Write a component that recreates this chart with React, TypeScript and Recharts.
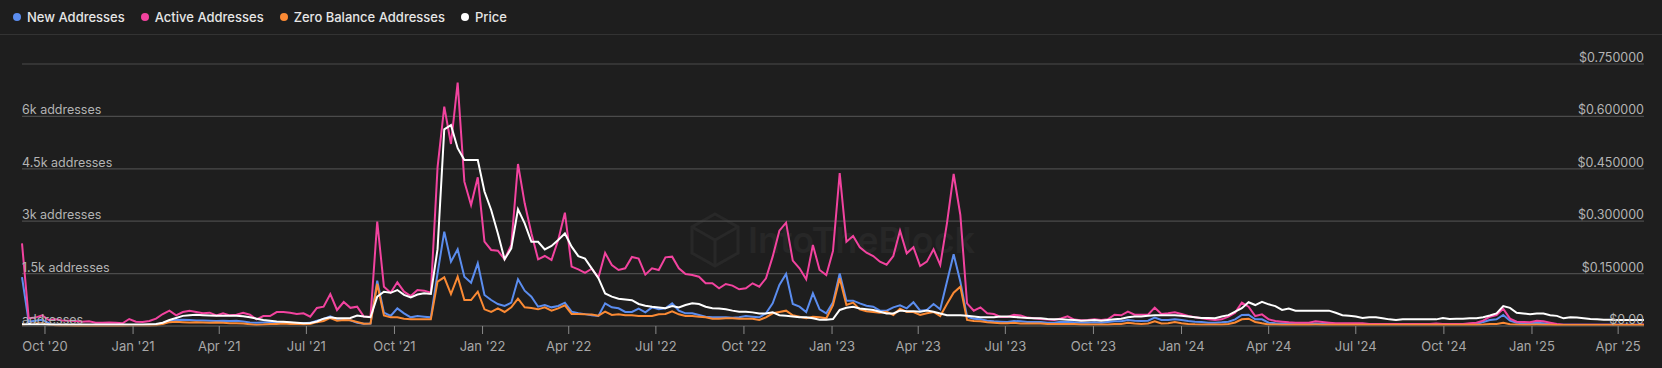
import React from 'react';
import { LineChart, Line, XAxis, YAxis, CartesianGrid } from 'recharts';

document.body.style.margin = '0';
document.body.style.background = '#1e1e1e';

// weekly samples (Monday of each week)
const weeks = [
  '2020-09-07', '2020-09-14', '2020-09-21', '2020-09-28', '2020-10-05', '2020-10-12', '2020-10-19', '2020-10-26',
  '2020-11-02', '2020-11-09', '2020-11-16', '2020-11-23', '2020-11-30', '2020-12-07', '2020-12-14', '2020-12-21', '2020-12-28',
  '2021-01-04', '2021-01-11', '2021-01-18', '2021-01-25', '2021-02-01', '2021-02-08', '2021-02-15', '2021-02-22',
  '2021-03-01', '2021-03-08', '2021-03-15', '2021-03-22', '2021-03-29', '2021-04-05', '2021-04-12', '2021-04-19', '2021-04-26',
  '2021-05-03', '2021-05-10', '2021-05-17', '2021-05-24', '2021-05-31', '2021-06-07', '2021-06-14', '2021-06-21', '2021-06-28',
  '2021-07-05', '2021-07-12', '2021-07-19', '2021-07-26', '2021-08-02', '2021-08-09', '2021-08-16', '2021-08-23', '2021-08-30',
  '2021-09-06', '2021-09-13', '2021-09-20', '2021-09-27', '2021-10-04', '2021-10-11', '2021-10-18', '2021-10-25',
  '2021-11-01', '2021-11-08', '2021-11-15', '2021-11-22', '2021-11-29', '2021-12-06', '2021-12-13', '2021-12-20', '2021-12-27',
  '2022-01-03', '2022-01-10', '2022-01-17', '2022-01-24', '2022-01-31', '2022-02-07', '2022-02-14', '2022-02-21', '2022-02-28',
  '2022-03-07', '2022-03-14', '2022-03-21', '2022-03-28', '2022-04-04', '2022-04-11', '2022-04-18', '2022-04-25',
  '2022-05-02', '2022-05-09', '2022-05-16', '2022-05-23', '2022-05-30', '2022-06-06', '2022-06-13', '2022-06-20', '2022-06-27',
  '2022-07-04', '2022-07-11', '2022-07-18', '2022-07-25', '2022-08-01', '2022-08-08', '2022-08-15', '2022-08-22', '2022-08-29',
  '2022-09-05', '2022-09-12', '2022-09-19', '2022-09-26', '2022-10-03', '2022-10-10', '2022-10-17', '2022-10-24', '2022-10-31',
  '2022-11-07', '2022-11-14', '2022-11-21', '2022-11-28', '2022-12-05', '2022-12-12', '2022-12-19', '2022-12-26',
  '2023-01-02', '2023-01-09', '2023-01-16', '2023-01-23', '2023-01-30', '2023-02-06', '2023-02-13', '2023-02-20', '2023-02-27',
  '2023-03-06', '2023-03-13', '2023-03-20', '2023-03-27', '2023-04-03', '2023-04-10', '2023-04-17', '2023-04-24',
  '2023-05-01', '2023-05-08', '2023-05-15', '2023-05-22', '2023-05-29', '2023-06-05', '2023-06-12', '2023-06-19', '2023-06-26',
  '2023-07-03', '2023-07-10', '2023-07-17', '2023-07-24', '2023-07-31', '2023-08-07', '2023-08-14', '2023-08-21', '2023-08-28',
  '2023-09-04', '2023-09-11', '2023-09-18', '2023-09-25', '2023-10-02', '2023-10-09', '2023-10-16', '2023-10-23', '2023-10-30',
  '2023-11-06', '2023-11-13', '2023-11-20', '2023-11-27', '2023-12-04', '2023-12-11', '2023-12-18', '2023-12-25',
  '2024-01-01', '2024-01-08', '2024-01-15', '2024-01-22', '2024-01-29', '2024-02-05', '2024-02-12', '2024-02-19', '2024-02-26',
  '2024-03-04', '2024-03-11', '2024-03-18', '2024-03-25', '2024-04-01', '2024-04-08', '2024-04-15', '2024-04-22', '2024-04-29',
  '2024-05-06', '2024-05-13', '2024-05-20', '2024-05-27', '2024-06-03', '2024-06-10', '2024-06-17', '2024-06-24',
  '2024-07-01', '2024-07-08', '2024-07-15', '2024-07-22', '2024-07-29', '2024-08-05', '2024-08-12', '2024-08-19', '2024-08-26',
  '2024-09-02', '2024-09-09', '2024-09-16', '2024-09-23', '2024-09-30', '2024-10-07', '2024-10-14', '2024-10-21', '2024-10-28',
  '2024-11-04', '2024-11-11', '2024-11-18', '2024-11-25', '2024-12-02', '2024-12-09', '2024-12-16', '2024-12-23', '2024-12-30',
  '2025-01-06', '2025-01-13', '2025-01-20', '2025-01-27', '2025-02-03', '2025-02-10', '2025-02-17', '2025-02-24',
  '2025-03-03', '2025-03-10', '2025-03-17', '2025-03-24', '2025-03-31', '2025-04-07', '2025-04-14', '2025-04-21', '2025-04-28',
];

const newAddresses = [
  1400, 120, 150, 180, 80, 30, 20, 20, 15, 15,
  15, 15, 15, 15, 15, 15, 20, 20, 20, 25,
  40, 90, 140, 170, 180, 170, 160, 160, 150, 140,
  150, 140, 150, 130, 100, 90, 100, 110, 110, 100,
  90, 80, 80, 90, 150, 200, 280, 190, 190, 165,
  95, 67, 70, 1298, 382, 286, 506, 363, 248, 286,
  267, 248, 1508, 2701, 1842, 2195, 1412, 1241, 1794, 888,
  744, 630, 573, 668, 1336, 1012, 840, 553, 601, 534,
  573, 668, 410, 363, 340, 310, 286, 649, 534, 506,
  401, 401, 496, 391, 534, 477, 506, 649, 439, 363,
  363, 315, 267, 248, 248, 248, 239, 248, 286, 267,
  248, 363, 649, 1174, 1489, 630, 553, 401, 935, 477,
  363, 680, 1500, 725, 725, 649, 582, 553, 439, 439,
  534, 592, 506, 678, 439, 458, 630, 477, 1269, 2052,
  1269, 267, 210, 191, 153, 134, 124, 115, 143, 134,
  115, 115, 115, 95, 95, 124, 115, 105, 95, 95,
  105, 95, 115, 134, 134, 172, 153, 143, 153, 239,
  172, 172, 191, 172, 143, 124, 115, 95, 95, 105,
  124, 191, 315, 324, 191, 191, 95, 76, 70, 65,
  57, 57, 57, 70, 60, 57, 57, 57, 57, 57,
  57, 50, 50, 50, 50, 50, 50, 50, 50, 50,
  50, 50, 50, 50, 50, 50, 55, 57, 115, 172,
  191, 315, 153, 95, 76, 76, 95, 76, 57, 45,
  38, 38, 38, 38, 38, 38, 38, 38, 38, 38,
  38, 38, 38,
];

const activeAddresses = [
  2366, 220, 240, 305, 172, 190, 160, 150, 143, 124,
  134, 95, 95, 100, 95, 76, 200, 124, 114, 143,
  210, 343, 439, 305, 400, 439, 400, 362, 381, 305,
  362, 305, 324, 381, 324, 190, 286, 286, 400, 400,
  381, 343, 362, 267, 515, 553, 916, 458, 687, 520,
  553, 270, 267, 2987, 1126, 950, 1250, 983, 859, 1030,
  1012, 954, 4540, 6279, 5210, 6966, 4132, 3464, 4256, 2414,
  2176, 2157, 1909, 2319, 4638, 3512, 2653, 1909, 2004, 1890,
  2462, 3245, 1699, 1622, 1520, 1640, 1390, 2090, 1746, 1603,
  1651, 1975, 1930, 1470, 1651, 1603, 1966, 1985, 1651, 1489,
  1460, 1412, 1222, 1222, 1078, 1202, 1155, 1050, 1078, 1222,
  1126, 1365, 1985, 2729, 2958, 1870, 1651, 1336, 2319, 1603,
  1460, 2150, 4380, 2414, 2577, 2252, 2099, 2004, 1842, 1756,
  2004, 2729, 2080, 2252, 1718, 1842, 2195, 1746, 2939, 4352,
  3178, 649, 439, 534, 363, 344, 260, 260, 320, 300,
  240, 220, 200, 185, 172, 215, 276, 185, 165, 172,
  191, 172, 191, 324, 305, 410, 324, 324, 324, 525,
  344, 363, 391, 344, 286, 248, 220, 191, 172, 191,
  267, 382, 668, 553, 286, 334, 191, 143, 124, 105,
  95, 95, 95, 134, 115, 95, 76, 76, 76, 76,
  76, 57, 57, 57, 57, 57, 57, 57, 57, 57,
  57, 70, 57, 57, 57, 57, 76, 95, 153, 267,
  315, 496, 210, 124, 115, 105, 153, 134, 95, 57,
  38, 38, 38, 38, 38, 38, 38, 38, 38, 38,
  38, 38, 45,
];

const zeroBalanceAddresses = [
  40, 60, 70, 80, 40, 20, 15, 15, 10, 10,
  10, 10, 10, 10, 10, 10, 15, 15, 15, 15,
  20, 60, 110, 120, 110, 100, 110, 100, 90, 100,
  90, 80, 80, 70, 50, 30, 40, 60, 60, 70,
  60, 60, 50, 60, 110, 140, 230, 150, 172, 162,
  115, 67, 70, 1202, 305, 248, 248, 210, 191, 191,
  191, 191, 1269, 1393, 916, 1412, 744, 744, 983, 477,
  401, 506, 401, 534, 783, 534, 515, 477, 534, 439,
  506, 592, 344, 344, 334, 330, 295, 410, 315, 334,
  305, 305, 286, 286, 286, 334, 344, 420, 334, 286,
  286, 267, 248, 210, 210, 220, 220, 210, 210, 210,
  172, 248, 363, 401, 439, 305, 267, 220, 267, 248,
  220, 600, 1365, 601, 668, 477, 420, 401, 382, 410,
  315, 496, 401, 401, 315, 363, 401, 286, 630, 954,
  1126, 172, 143, 134, 105, 95, 76, 76, 95, 70,
  70, 70, 70, 57, 57, 57, 57, 57, 40, 40,
  45, 40, 45, 60, 60, 95, 70, 60, 70, 134,
  70, 80, 115, 80, 60, 50, 45, 40, 40, 45,
  60, 100, 191, 210, 115, 76, 45, 40, 38, 38,
  38, 38, 38, 40, 38, 38, 38, 38, 38, 38,
  35, 35, 35, 35, 35, 35, 35, 35, 35, 35,
  35, 35, 35, 35, 35, 35, 35, 35, 40, 55,
  60, 95, 50, 40, 38, 38, 40, 38, 35, 30,
  28, 28, 28, 28, 28, 28, 28, 28, 28, 28,
  28, 28, 28,
];

const price = [
  0.005, 0.006, 0.005, 0.005, 0.004, 0.004, 0.004, 0.004, 0.004, 0.004,
  0.004, 0.004, 0.004, 0.004, 0.004, 0.004, 0.004, 0.004, 0.004, 0.005,
  0.006, 0.0095, 0.017, 0.023, 0.029, 0.031, 0.032, 0.031, 0.03, 0.029,
  0.029, 0.029, 0.029, 0.028, 0.025, 0.021, 0.017, 0.015, 0.013, 0.012,
  0.011, 0.0095, 0.0076, 0.0086, 0.013, 0.021, 0.025, 0.022, 0.022, 0.023,
  0.03, 0.027, 0.025, 0.084, 0.098, 0.095, 0.103, 0.089, 0.082, 0.09,
  0.0935, 0.0916, 0.22, 0.563, 0.575, 0.509, 0.475, 0.475, 0.475, 0.385,
  0.332, 0.265, 0.191, 0.222, 0.334, 0.294, 0.241, 0.241, 0.219, 0.229,
  0.246, 0.265, 0.227, 0.2, 0.193, 0.165, 0.137, 0.093, 0.084, 0.078,
  0.076, 0.074, 0.063, 0.058, 0.055, 0.053, 0.051, 0.057, 0.053, 0.06,
  0.065, 0.063, 0.055, 0.051, 0.05, 0.048, 0.044, 0.041, 0.041, 0.039,
  0.036, 0.036, 0.039, 0.031, 0.029, 0.027, 0.025, 0.025, 0.022, 0.018,
  0.018, 0.02, 0.046, 0.052, 0.055, 0.05, 0.048, 0.046, 0.041, 0.036,
  0.036, 0.044, 0.042, 0.042, 0.041, 0.044, 0.041, 0.036, 0.031, 0.031,
  0.031, 0.029, 0.027, 0.025, 0.025, 0.025, 0.027, 0.027, 0.026, 0.024,
  0.023, 0.022, 0.022, 0.02, 0.019, 0.019, 0.018, 0.017, 0.015, 0.016,
  0.017, 0.015, 0.017, 0.019, 0.021, 0.025, 0.027, 0.027, 0.029, 0.031,
  0.031, 0.031, 0.031, 0.029, 0.027, 0.025, 0.023, 0.023, 0.022, 0.027,
  0.031, 0.041, 0.051, 0.068, 0.06, 0.069, 0.062, 0.057, 0.046, 0.05,
  0.044, 0.044, 0.044, 0.044, 0.044, 0.044, 0.038, 0.031, 0.029, 0.027,
  0.023, 0.025, 0.025, 0.022, 0.019, 0.017, 0.019, 0.019, 0.019, 0.019,
  0.019, 0.019, 0.023, 0.02, 0.021, 0.021, 0.022, 0.022, 0.025, 0.03,
  0.036, 0.057, 0.052, 0.038, 0.036, 0.034, 0.036, 0.036, 0.031, 0.029,
  0.022, 0.025, 0.024, 0.022, 0.02, 0.019, 0.018, 0.018, 0.017, 0.017,
  0.017, 0.017, 0.017,
];

const tickDates = [
  '2020-10-01', '2021-01-01', '2021-04-01', '2021-07-01', '2021-10-01', '2022-01-01', '2022-04-01',
  '2022-07-01', '2022-10-01', '2023-01-01', '2023-04-01', '2023-07-01', '2023-10-01', '2024-01-01',
  '2024-04-01', '2024-07-01', '2024-10-01', '2025-01-01', '2025-04-01',
];
const tickLabels = [
  "Oct '20", "Jan '21", "Apr '21", "Jul '21", "Oct '21", "Jan '22", "Apr '22",
  "Jul '22", "Oct '22", "Jan '23", "Apr '23", "Jul '23", "Oct '23", "Jan '24",
  "Apr '24", "Jul '24", "Oct '24", "Jan '25", "Apr '25",
];

const addressTicks = [0, 1500, 3000, 4500, 6000, 7500];
const priceTicks = [0, 0.15, 0.3, 0.45, 0.6, 0.75];

const series = [
  { key: 'newAddresses', name: 'New Addresses', color: '#5b8def', axis: 'left' },
  { key: 'activeAddresses', name: 'Active Addresses', color: '#f2439f', axis: 'left' },
  { key: 'zeroBalanceAddresses', name: 'Zero Balance Addresses', color: '#fb8a34', axis: 'left' },
  { key: 'price', name: 'Price', color: '#ffffff', axis: 'right' },
];

const tickTimes = tickDates.map((d) => Date.parse(d));

const data = weeks.map((w, i) => ({
  t: Date.parse(w),
  newAddresses: newAddresses[i],
  activeAddresses: activeAddresses[i],
  zeroBalanceAddresses: zeroBalanceAddresses[i],
  price: price[i],
}));

const W = 1662;
const H = 368;
const margin = { top: 64, right: 18, bottom: 12, left: 22 };
const plotLeft = margin.left;
const plotRight = W - margin.right;

const LeftTick = (props: any) => {
  const { y, payload } = props;
  if (payload.value === 7500) return <g />;
  const label = payload.value === 0 ? 'addresses' : `${payload.value / 1000}k addresses`;
  return (
    <text x={plotLeft} y={y - 2} fill="#b4b4b4" fontSize={12.5} textAnchor="start">
      {label}
    </text>
  );
};

const RightTick = (props: any) => {
  const { y, payload } = props;
  const label = payload.value === 0 ? '$0.00' : `$${payload.value.toFixed(6)}`;
  return (
    <text x={plotRight} y={y - 2} fill="#b4b4b4" fontSize={12.5} textAnchor="end">
      {label}
    </text>
  );
};

const App = () => {
  return (
    <div style={{ position: 'relative', width: W, height: H, background: '#1e1e1e', fontFamily: 'Inter, sans-serif' }}>
      <div
        style={{
          position: 'absolute', left: 0, top: 0, width: W, height: 35, boxSizing: 'border-box',
          borderBottom: '1px solid #333333', display: 'flex', alignItems: 'center', paddingLeft: 13,
          color: '#e6e6e6', fontSize: 13, fontWeight: 500,
        }}
      >
        {series.map((s) => (
          <div key={s.key} style={{ display: 'flex', alignItems: 'center', marginRight: 16 }}>
            <span style={{ width: 8, height: 8, borderRadius: 4, background: s.color, marginRight: 6 }} />
            <span>{s.name}</span>
          </div>
        ))}
      </div>

      <svg width={W} height={H} style={{ position: 'absolute', left: 0, top: 0 }}>
        <g fill="none" stroke="#282828" strokeWidth={3}>
          <polygon points="715,214 738,227 738,253 715,266 692,253 692,227" />
          <polyline points="692,227 715,240 738,227" />
          <line x1={715} y1={240} x2={715} y2={266} />
        </g>
        <text x={748} y={253} fontSize={36} fontWeight={600} fill="#272727" fontFamily="Inter, sans-serif">
          IntoTheBlock
        </text>
      </svg>

      <div style={{ position: 'absolute', left: 0, top: 0 }}>
        <LineChart width={W} height={H} data={data} margin={margin} style={{ fontFamily: 'Inter, sans-serif' }}>
          <CartesianGrid vertical={false} yAxisId="left" stroke="#4b4b4b" strokeWidth={1.2} />
          <XAxis
            dataKey="t"
            type="number"
            domain={['dataMin', 'dataMax']}
            ticks={tickTimes}
            interval={0}
            tickFormatter={(v: number) => tickLabels[tickTimes.indexOf(v)]}
            height={30}
            axisLine={{ stroke: '#4b4b4b' }}
            tickLine={{ stroke: '#8a8a8a' }}
            tickSize={8}
            tickMargin={8}
            tick={{ fill: '#a8a8a8', fontSize: 13 }}
          />
          <YAxis
            yAxisId="left"
            domain={[0, 7500]}
            ticks={addressTicks}
            interval={0}
            mirror
            width={1}
            axisLine={false}
            tickLine={false}
            tickSize={0}
            tick={LeftTick}
          />
          <YAxis
            yAxisId="right"
            orientation="right"
            domain={[0, 0.75]}
            ticks={priceTicks}
            interval={0}
            mirror
            width={1}
            axisLine={false}
            tickLine={false}
            tickSize={0}
            tick={RightTick}
          />
          {series.map((s) => (
            <Line
              key={s.key}
              yAxisId={s.axis}
              type="linear"
              dataKey={s.key}
              name={s.name}
              stroke={s.color}
              strokeWidth={2}
              dot={false}
              activeDot={false}
              isAnimationActive={false}
            />
          ))}
        </LineChart>
      </div>
    </div>
  );
};

export default App;
